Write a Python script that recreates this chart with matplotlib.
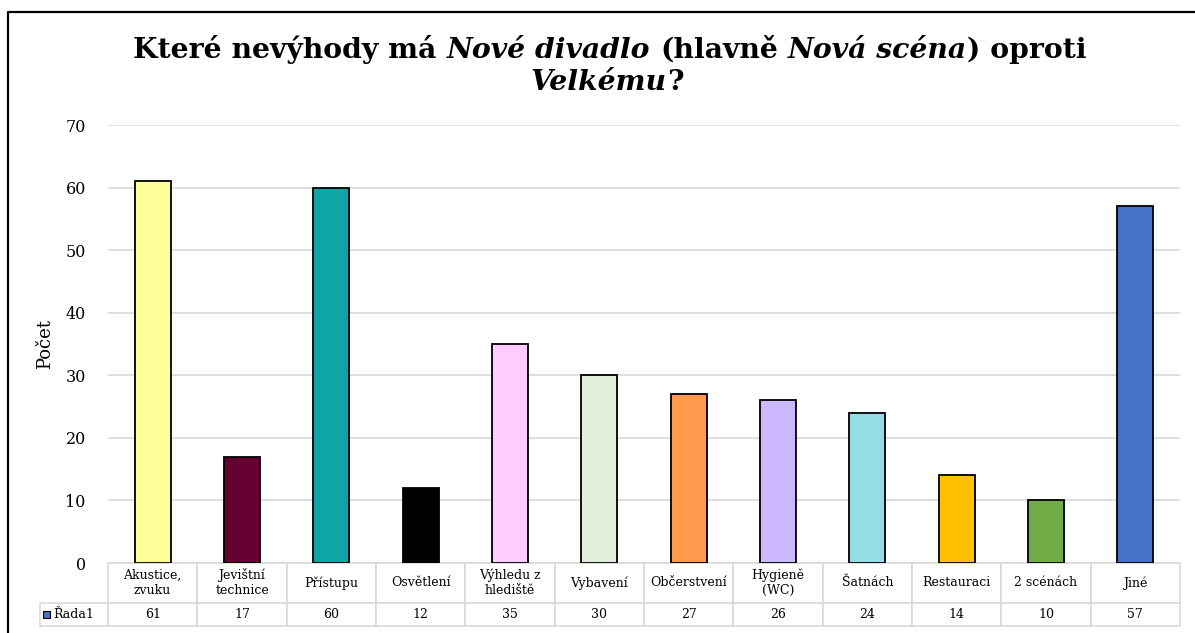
import matplotlib
matplotlib.use('Agg')
import matplotlib.pyplot as plt
from matplotlib.lines import Line2D
from matplotlib.patches import Rectangle

# data
categories = ['Akustice,\nzvuku', 'Jevištní\ntechnice', 'Přístupu', 'Osvětlení',
              'Výhledu z\nhlediště', 'Vybavení', 'Občerstvení', 'Hygieně\n(WC)',
              'Šatnách', 'Restauraci', '2 scénách', 'Jiné']
counts = [61, 17, 60, 12, 35, 30, 27, 26, 24, 14, 10, 57]
colors = ['#FFFF99', '#660033', '#10A5A5', '#000000', '#FFCCFF', '#E2EFDA',
          '#FF9A4D', '#CCB8FF', '#95DCE5', '#FFC000', '#70AD47', '#4472C4']
series_name = 'Řada1'
yticks = [0, 10, 20, 30, 40, 50, 60, 70]

# title pieces: (text, italic)
title_line1 = [('Které nevýhody má ', False), ('Nové divadlo', True), (' (hlavně ', False),
               ('Nová scéna', True), (') oproti', False)]
title_line2 = [('Velkému', True), ('?', False)]

plt.rcParams['font.family'] = 'DejaVu Serif'

W, H = 1195, 633
fig = plt.figure(figsize=(W / 100, H / 100), dpi=100)

# plot area in pixels
L, R, T, B = 108, 1180, 125, 563
ax = fig.add_axes([L / W, (H - B) / H, (R - L) / W, (B - T) / H])

x = list(range(len(counts)))
ax.bar(x, counts, width=0.4, color=colors, edgecolor='black', linewidth=1.3, zorder=3)
ax.set_xlim(-0.5, len(counts) - 0.5)
ax.set_ylim(0, 70)
ax.set_yticks(yticks)
ax.tick_params(axis='y', length=0, pad=16, labelsize=11.5)
ax.set_xticks([])
ax.grid(axis='y', color='#d9d9d9', linewidth=1.2, zorder=0)
for s in ax.spines.values():
    s.set_visible(False)

ax.set_ylabel('Počet', fontsize=13)
ax.yaxis.label.set_va('center')
ax.yaxis.set_label_coords((45 - L) / (R - L), 0.5)

# data table under the plot
cell_text = [[''] + categories, [series_name] + [str(v) for v in counts]]
col_w = [68] + [(R - L) / len(counts)] * len(counts)
tb_top, tb_bot = 563, 626
tbl = ax.table(cellText=cell_text, cellLoc='center', colWidths=col_w,
               bbox=[(40 - L) / (R - L), -(tb_bot - B) / (B - T),
                     (R - 40) / (R - L), (tb_bot - tb_top) / (B - T)])
tbl.auto_set_font_size(False)
tbl.set_fontsize(9)
for (r, c), cell in tbl.get_celld().items():
    cell.set_edgecolor('#d9d9d9')
    cell.set_linewidth(1.2)
    cell.set_height(40 if r == 0 else 23)
    cell.set_width(col_w[c])
tbl[0, 0].visible_edges = ''

# legend key in the table
fig.add_artist(Rectangle((43 / W, (H - 618) / H), 7 / W, 7 / H, transform=fig.transFigure,
                         facecolor='#4472C4', edgecolor='black', linewidth=0.8))

# title with mixed italic pieces
renderer = fig.canvas.get_renderer()
title_size = 20.3


def text_w(s, italic):
    t = fig.text(0, 0, s, fontsize=title_size, fontweight='bold',
                 fontstyle='italic' if italic else 'normal')
    w = t.get_window_extent(renderer).width
    t.remove()
    return w


space_w = text_w('n n', False) - text_w('nn', False)


def draw_title_line(parts, baseline_px, center_px):
    items = []
    total = 0
    for s, it in parts:
        lead = len(s) - len(s.lstrip(' '))
        trail = len(s) - len(s.rstrip(' '))
        core = s.strip(' ')
        w = text_w(core, it)
        items.append((core, it, total + lead * space_w))
        total += lead * space_w + w + trail * space_w
    x0 = center_px - total / 2
    for core, it, off in items:
        fig.text((x0 + off) / W, 1 - baseline_px / H, core, fontsize=title_size,
                 fontweight='bold', fontstyle='italic' if it else 'normal',
                 ha='left', va='baseline')


draw_title_line(title_line1, 58, 610)
draw_title_line(title_line2, 90, 607)

# outer frame (left and top edges visible)
fig.add_artist(Line2D([8 / W, 8 / W, 1.0], [0.0, 1 - 12 / H, 1 - 12 / H],
                      transform=fig.transFigure, color='black', linewidth=1.6))

fig.savefig('out.png', dpi=100)
